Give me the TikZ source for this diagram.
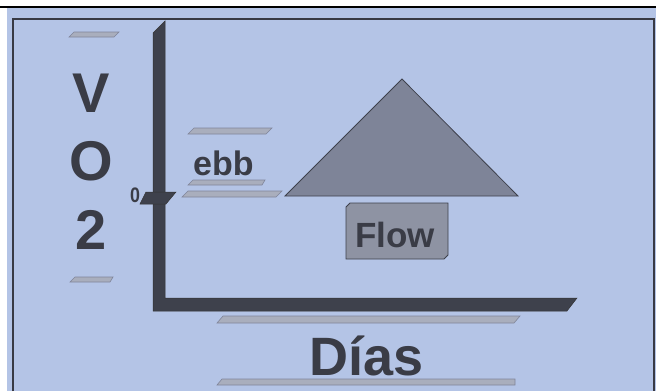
\documentclass[tikz,border=0pt]{standalone}
\usepackage{fontspec}
\setmainfont{Liberation Sans}
\definecolor{bgblue}{HTML}{B4C4E6}
\definecolor{barc}{HTML}{3E414C}
\definecolor{trif}{HTML}{7E8498}
\definecolor{boxf}{HTML}{8E93A3}
\definecolor{stripef}{HTML}{A9AEBD}
\definecolor{stripel}{HTML}{80859A}
\definecolor{txtc}{HTML}{3A3C46}
\begin{document}
\begin{tikzpicture}[x=1pt,y=-1pt,
  frameline/.style={draw=barc!90!black,line width=1.1pt},
  stripe/.style={fill=stripef,draw=stripel,line width=0.6pt},
  bigtxt/.style={font=\fontsize{56}{56}\selectfont\bfseries,text=txtc,inner sep=0pt},
  midtxt/.style={font=\fontsize{35}{35}\selectfont\bfseries,text=txtc,inner sep=0pt}]
\useasboundingbox (0,0) rectangle (656,391);
\fill[white] (0,0) rectangle (656,391);
\fill[bgblue] (7,8) rectangle (656,391);
\draw[black,line width=1.2pt] (0,7) -- (656,7);
\draw[frameline] (13,391) -- (13,19) -- (654,19) -- (654,391);
% axes
\fill[barc,draw=black!80,line width=0.5pt] (153,33) -- (165,21) -- (165,298) -- (577,298) -- (567,311) -- (153,311) -- cycle;
% tick
\fill[barc,draw=black!80,line width=0.5pt] (140,204) -- (146,192) -- (176,192) -- (166,204) -- cycle;
\node[font=\fontsize{21}{21}\selectfont\bfseries,text=txtc,inner sep=0pt,xscale=0.85] (zero) at (135,195) {0};
% stripes
\draw[stripe] (69,37) -- (74,32) -- (119,32) -- (114,37) -- cycle;
\draw[stripe] (70,282) -- (75,277) -- (113,277) -- (110,282) -- cycle;
\draw[stripe] (188,134) -- (194,128) -- (272,128) -- (266,134) -- cycle;
\draw[stripe] (188,185) -- (193,180) -- (265,180) -- (262,185) -- cycle;
\draw[stripe] (182,197) -- (188,191) -- (282,191) -- (276,197) -- cycle;
\draw[stripe] (217,323) -- (223,316) -- (520,316) -- (514,323) -- cycle;
\draw[stripe] (217,385) -- (222,379) -- (515,379) -- (515,385) -- cycle;
% triangle
\filldraw[fill=trif,draw=barc,line width=0.8pt] (285,196) -- (402,79) -- (518,196) -- cycle;
% Flow box
\filldraw[fill=boxf,draw=barc,line width=0.9pt] (346,207) -- (350,203) -- (448,203) -- (448,255) -- (444,259) -- (346,259) -- cycle;
\node[midtxt] (flow) at (395,235) {Flow};
% texts
\node[bigtxt] (v) at (91,93) {V};
\node[bigtxt] (o) at (91.5,161) {O};
\node[bigtxt] (two) at (91,230) {2};
\node[font=\fontsize{34}{34}\selectfont\bfseries,text=txtc,anchor=base west,inner sep=0pt] (ebb) at (193,175) {ebb};
\node[font=\fontsize{54}{54}\selectfont\bfseries,text=txtc,anchor=base west,inner sep=0pt] (dias) at (309,375) {Días};
\end{tikzpicture}
\end{document}
